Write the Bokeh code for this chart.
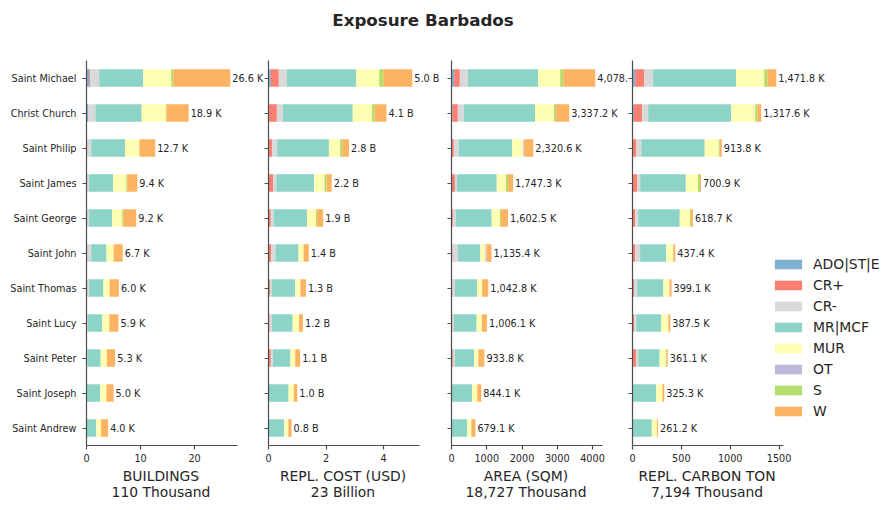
from bokeh.plotting import figure
from bokeh.core.properties import value
from bokeh.models import (ColumnDataSource, FactorRange, Range1d, FixedTicker,
                          LabelSet, Legend, LegendItem, Div, CustomJSTickFormatter)
from bokeh.layouts import row, column
from bokeh.embed import file_html
from bokeh.resources import INLINE

# parishes, top to bottom as in the chart
parishes = ["Saint Michael", "Christ Church", "Saint Philip", "Saint James",
            "Saint George", "Saint John", "Saint Thomas", "Saint Lucy",
            "Saint Peter", "Saint Joseph", "Saint Andrew"]

classes = ["ADO|ST|E", "CR+", "CR-", "MR|MCF", "MUR", "OT", "S", "W"]
colors = ["#80b1d3", "#fb8072", "#d9d9d9", "#8dd3c7", "#ffffb3", "#bebada", "#b3de69", "#fdb462"]

# buildings, thousands (one list per class, parish order as above)
bld_ado = [0.49, 0.31, 0.02, 0, 0, 0, 0, 0, 0, 0, 0]
bld_crp = [0.19, 0.05, 0, 0, 0, 0, 0, 0, 0, 0, 0]
bld_crm = [1.67, 1.30, 0.86, 0.49, 0.49, 0.88, 0.50, 0.25, 0.19, 0, 0]
bld_mr = [8.15, 8.55, 6.27, 4.45, 4.26, 2.82, 2.65, 2.67, 2.43, 2.56, 1.78]
bld_mur = [5.18, 4.46, 2.59, 2.41, 1.85, 1.31, 1.14, 1.30, 1.15, 1.13, 0.92]
bld_ot = [0, 0, 0, 0, 0, 0, 0, 0, 0, 0, 0]
bld_s = [0.37, 0.12, 0.05, 0.19, 0.19, 0, 0, 0, 0, 0, 0]
bld_w = [10.55, 4.11, 2.91, 1.86, 2.41, 1.69, 1.71, 1.68, 1.53, 1.31, 1.30]

# replacement cost, billion USD
cost_ado = [0.08, 0.02, 0, 0, 0, 0, 0, 0, 0, 0, 0]
cost_crp = [0.28, 0.27, 0.12, 0.16, 0.08, 0.09, 0.05, 0.04, 0.08, 0, 0]
cost_crm = [0.28, 0.21, 0.18, 0.11, 0.10, 0.15, 0.07, 0.08, 0.07, 0, 0]
cost_mr = [2.41, 2.43, 1.80, 1.32, 1.16, 0.80, 0.81, 0.72, 0.61, 0.70, 0.55]
cost_mur = [0.80, 0.67, 0.39, 0.36, 0.31, 0.18, 0.18, 0.22, 0.17, 0.18, 0.14]
cost_ot = [0, 0, 0, 0, 0, 0, 0, 0, 0, 0, 0]
cost_s = [0.14, 0.09, 0.07, 0.07, 0.04, 0, 0, 0, 0, 0, 0]
cost_w = [1.01, 0.41, 0.24, 0.18, 0.21, 0.18, 0.19, 0.14, 0.17, 0.12, 0.11]

# floor area, thousand sqm
area_ado = [76, 28, 0, 0, 0, 0, 0, 0, 0, 0, 0]
area_crp = [161, 152, 67, 97, 39, 29, 29, 29, 39, 0, 0]
area_crm = [228, 171, 143, 58, 87, 154, 67, 39, 58, 0, 0]
area_mr = [1992, 2019.2, 1511.6, 1128.3, 1014, 635.4, 631.8, 645.1, 548.8, 585.1, 446.1]
area_mur = [626, 540, 314, 261, 232, 144, 143, 147, 116, 144, 116]
area_ot = [0, 0, 28, 0, 0, 29, 0, 0, 0, 0, 0]
area_s = [85, 57, 0, 58, 29, 0, 0, 0, 0, 0, 0]
area_w = [910.9, 370, 257, 145, 201.5, 144, 172, 146, 172, 115, 117]

# replacement carbon, thousand tons
co2_ado = [27, 14, 0, 0, 0, 0, 0, 0, 0, 0, 0]
co2_crp = [92, 85, 38, 48, 28, 27, 17, 17, 38, 0, 0]
co2_crm = [92, 61, 52, 31, 31, 51, 31, 21, 21, 0, 0]
co2_mr = [850, 850.6, 648.8, 466.9, 424.7, 267, 268.1, 257, 219.1, 243, 198]
co2_mur = [287, 246, 144, 124, 104, 72, 62, 72, 62, 62, 52]
co2_ot = [0, 0, 0, 0, 0, 0, 0, 0, 0, 0, 0]
co2_s = [31, 20, 10, 21, 10, 0, 0, 0, 10, 0, 0]
co2_w = [92.8, 41, 21, 10, 21, 20.4, 21, 20.5, 11, 20.3, 11.2]

buildings = [bld_ado, bld_crp, bld_crm, bld_mr, bld_mur, bld_ot, bld_s, bld_w]
cost = [cost_ado, cost_crp, cost_crm, cost_mr, cost_mur, cost_ot, cost_s, cost_w]
area = [area_ado, area_crp, area_crm, area_mr, area_mur, area_ot, area_s, area_w]
carbon = [co2_ado, co2_crp, co2_crm, co2_mr, co2_mur, co2_ot, co2_s, co2_w]

ticks_buildings = [0, 10, 20]
ticks_cost = [0, 2, 4]
ticks_area = [0, 1000, 2000, 3000, 4000]
ticks_carbon = [0, 500, 1000, 1500]

axis_titles = ["BUILDINGS<br>110 Thousand", "REPL. COST (USD)<br>23 Billion",
               "AREA (SQM)<br>18,727 Thousand", "REPL. CARBON TON<br>7,194 Thousand"]

FONT = "DejaVu Sans"
TXT = "#262626"
AXC = "#4d4d4d"
AXIS_PX = 151  # drawn length of each x axis


def panel(series, ticks, fmt, left, frame_w, show_names=False):
    data = {"parish": parishes}
    for name, vals in zip(classes, series):
        data[name] = vals
    totals = [sum(v[i] for v in series) for i in range(len(parishes))]
    data["total"] = totals
    data["label"] = [fmt.format(t) for t in totals]
    src = ColumnDataSource(data)

    # axis covers max*1.05; frame runs on to leave room for the total labels
    x_max = max(totals) * 1.05
    p = figure(y_range=FactorRange(factors=parishes[::-1], range_padding=0),
               x_range=Range1d(0, x_max * frame_w / AXIS_PX),
               frame_width=frame_w, frame_height=385, output_backend="svg",
               toolbar_location=None, tools="",
               min_border_left=left, min_border_right=0,
               min_border_top=22, min_border_bottom=22)
    rends = p.hbar_stack(classes, y="parish", height=0.5, fill_color=colors,
                         line_color=None, source=src)
    p.add_layout(LabelSet(x="total", y="parish", text="label", source=src,
                          x_offset=2, text_baseline="middle", text_font=value(FONT),
                          text_font_size="9.7px", text_color=TXT))
    p.outline_line_color = None
    p.xgrid.grid_line_color = None
    p.ygrid.grid_line_color = None
    p.xaxis.bounds = (0, x_max)
    p.xaxis.ticker = FixedTicker(ticks=ticks)
    for ax in (p.xaxis, p.yaxis):
        ax.axis_line_color = AXC
        ax.axis_line_width = 1.2
        ax.major_tick_line_color = AXC
        ax.major_tick_line_width = 1.2
        ax.major_tick_out = 4
        ax.major_tick_in = 0
        ax.minor_tick_line_color = None
        ax.major_label_text_font = FONT
        ax.major_label_text_font_size = "9.7px"
        ax.major_label_text_color = TXT
        ax.major_label_standoff = 4
    p.yaxis.major_label_standoff = 6
    if not show_names:
        # ticks only, the parish names are shown on the first panel
        p.yaxis.formatter = CustomJSTickFormatter(code="return ''")
        p.yaxis.major_label_standoff = 0
    return p, rends


p1, _ = panel(buildings, ticks_buildings, "{:.1f} K", 86, 178, True)
p2, _ = panel(cost, ticks_cost, "{:.1f} B", 4, 179)
p3, _ = panel(area, ticks_area, "{:,.1f} K", 4, 177)
p4, r4 = panel(carbon, ticks_carbon, "{:,.1f} K", 4, 256)

legend = Legend(items=[LegendItem(label=value(c), renderers=[r]) for c, r in zip(classes, r4)],
                location=(139, 26), glyph_width=34, glyph_height=12, label_height=12,
                spacing=5, padding=0, margin=0, label_standoff=8,
                label_text_font=FONT, label_text_font_size="13.9px", label_text_color=TXT,
                border_line_color=None, background_fill_alpha=0)
p4.add_layout(legend, "center")

title = Div(text="Exposure Barbados", width=846, height=38, margin=0,
            styles={"text-align": "center", "font-family": FONT, "font-size": "16.7px",
                    "font-weight": "bold", "color": TXT, "width": "846px", "padding-top": "9px"})

# axis titles, each centred under the drawn part of its x axis
label_style = {"text-align": "center", "font-family": FONT, "font-size": "13.9px",
               "line-height": "15.5px", "color": TXT, "white-space": "nowrap"}
widths = [182, 182, 184, 178]
lefts = [70, 0, 0, 0]
xlabels = [Div(text=t, width=w, height=34, margin=(2, 0, 0, m),
               styles=dict(label_style, width=f"{w}px"))
           for t, w, m in zip(axis_titles, widths, lefts)]

layout = column(title, row(p1, p2, p3, p4, spacing=0), row(*xlabels, spacing=0), spacing=0)
open("out.html", "w").write(file_html(layout, INLINE))
